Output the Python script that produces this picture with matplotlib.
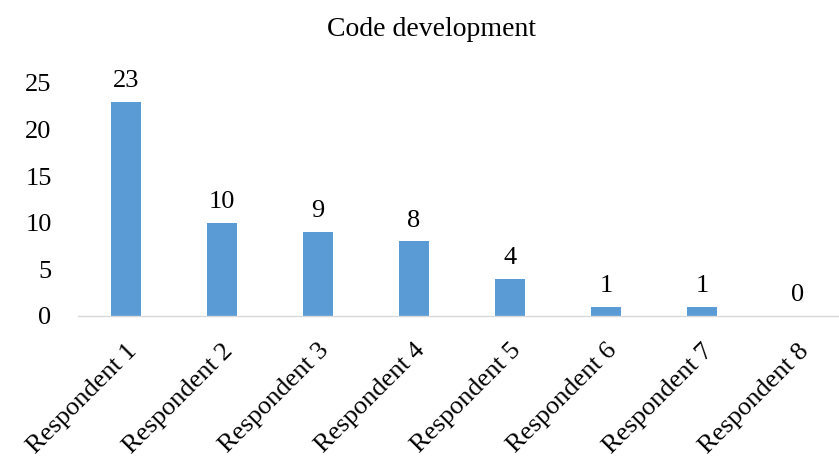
import matplotlib
matplotlib.use("Agg")
import matplotlib.pyplot as plt

categories = ["Respondent 1", "Respondent 2", "Respondent 3", "Respondent 4",
              "Respondent 5", "Respondent 6", "Respondent 7", "Respondent 8"]
values = [23, 10, 9, 8, 4, 1, 1, 0]
yticks = [0, 5, 10, 15, 20, 25]

plt.rcParams['font.family'] = ['Liberation Serif', 'DejaVu Serif']
FS = 19

fig = plt.figure(figsize=(8.39, 4.61), dpi=100)
ax = fig.add_axes([78/839, 145/461, (846-78)/839, (378-145)/461])

x = list(range(len(categories)))
bars = ax.bar(x, values, width=0.31, color='#5B9BD5')
for xi, v in zip(x, values):
    ax.annotate(str(v), (xi, v), xytext=(0, 7), textcoords='offset points',
                ha='center', va='bottom', fontsize=FS)

ax.set_xlim(-0.5, len(categories) - 0.5)
ax.set_ylim(0, 25)
ax.set_yticks(yticks)
ax.set_yticklabels([str(t) for t in yticks], fontsize=FS)
ax.set_xticks(x)
ax.set_xticklabels(categories, rotation=45, ha='right', rotation_mode='anchor', fontsize=FS)
ax.tick_params(axis='both', length=0)
ax.tick_params(axis='y', pad=19)
ax.tick_params(axis='x', pad=17)
for s in ['top', 'right', 'left']:
    ax.spines[s].set_visible(False)
ax.spines['bottom'].set_color('#D9D9D9')
ax.spines['bottom'].set_linewidth(1.0)

fig.text(431/839, 1 - 30/461, "Code development", ha='center', va='center', fontsize=FS + 1)

fig.savefig("out.png", dpi=100)
